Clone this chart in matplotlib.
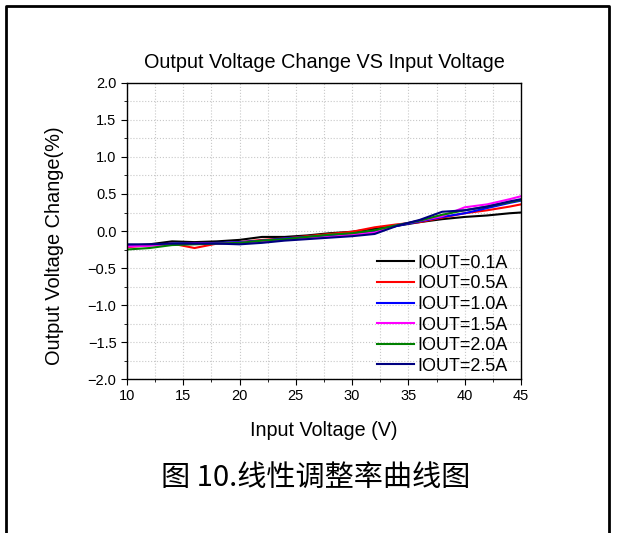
import numpy as np
import matplotlib
matplotlib.use('Agg')
import matplotlib.pyplot as plt
from matplotlib.lines import Line2D
from matplotlib.ticker import MultipleLocator, FuncFormatter

# input voltage (V)
vin = [10, 12, 14, 16, 18, 20, 22, 24, 26, 28, 30, 32, 34, 36, 38, 40, 42, 44, 45]

# output voltage change (%) for each load current
iout_01 = [-0.20, -0.18, -0.14, -0.15, -0.14, -0.12, -0.08, -0.08, -0.06, -0.03, -0.01, 0.03, 0.07, 0.12, 0.16, 0.19, 0.21, 0.24, 0.25]
iout_05 = [-0.22, -0.19, -0.17, -0.23, -0.17, -0.15, -0.12, -0.10, -0.07, -0.04, -0.01, 0.05, 0.09, 0.12, 0.18, 0.24, 0.28, 0.33, 0.36]
iout_10 = [-0.20, -0.19, -0.17, -0.17, -0.16, -0.15, -0.13, -0.10, -0.08, -0.06, -0.04, 0.00, 0.07, 0.13, 0.19, 0.24, 0.31, 0.38, 0.41]
iout_15 = [-0.21, -0.20, -0.18, -0.17, -0.17, -0.16, -0.14, -0.12, -0.10, -0.08, -0.05, -0.02, 0.08, 0.14, 0.20, 0.32, 0.36, 0.43, 0.47]
iout_20 = [-0.25, -0.23, -0.19, -0.18, -0.17, -0.16, -0.13, -0.11, -0.08, -0.05, -0.03, 0.01, 0.08, 0.14, 0.22, 0.28, 0.33, 0.39, 0.42]
iout_25 = [-0.18, -0.18, -0.17, -0.17, -0.17, -0.18, -0.16, -0.13, -0.11, -0.09, -0.07, -0.04, 0.07, 0.15, 0.26, 0.28, 0.33, 0.40, 0.43]

series = [
    ("IOUT=0.1A", iout_01, "black"),
    ("IOUT=0.5A", iout_05, "red"),
    ("IOUT=1.0A", iout_10, "blue"),
    ("IOUT=1.5A", iout_15, "magenta"),
    ("IOUT=2.0A", iout_20, "green"),
    ("IOUT=2.5A", iout_25, "navy"),
]

plt.rcParams['font.family'] = ['Liberation Sans', 'DejaVu Sans']

fig = plt.figure(figsize=(6.17, 5.33), dpi=100)
ax = fig.add_axes([0.2058, 0.2889, 0.6386, 0.5554])

for label, vals, color in series:
    ax.plot(vin, vals, color=color, linewidth=1.5, label=label)

ax.set_xlim(10, 45)
ax.set_ylim(-2.0, 2.0)
ax.xaxis.set_major_locator(MultipleLocator(5))
ax.xaxis.set_minor_locator(MultipleLocator(2.5))
ax.yaxis.set_major_locator(MultipleLocator(0.5))
ax.yaxis.set_minor_locator(MultipleLocator(0.25))
ax.yaxis.set_major_formatter(FuncFormatter(lambda v, p: f"{v:.1f}".replace("-", "\u2212")))
ax.tick_params(which='both', direction='out', top=False, right=False, labelsize=10.5, colors='black')
ax.tick_params(which='major', length=4)
ax.tick_params(which='minor', length=2.5)
ax.grid(which='both', color='#c8c8c8', linestyle=':', linewidth=0.8)
for s in ax.spines.values():
    s.set_linewidth(1.0)

ax.set_title("Output Voltage Change VS Input Voltage", fontsize=14.3, pad=11)
ax.set_xlabel("Input Voltage (V)", fontsize=14.2, labelpad=13)
ax.set_ylabel("Output Voltage Change(%)", fontsize=14.4)
ax.yaxis.set_label_coords(-0.16, 0.45)

ax.legend(loc='lower right', bbox_to_anchor=(0.985, -0.010), frameon=False, fontsize=13,
          handlelength=2.1, labelspacing=0.2, handletextpad=0.17, borderaxespad=0.2, borderpad=0.2)

fig.text(0.511, 0.103, "图 10.线性调整率曲线图", fontsize=21, ha='center', va='center',
         family=['Noto Sans CJK SC', 'DejaVu Sans'])

# outer frame (left, top, right)
fig.add_artist(Line2D([0.010, 0.010, 0.987, 0.987], [0.0, 0.989, 0.989, 0.0],
                      transform=fig.transFigure, color='black', linewidth=2))

fig.savefig("out.png", dpi=100)
